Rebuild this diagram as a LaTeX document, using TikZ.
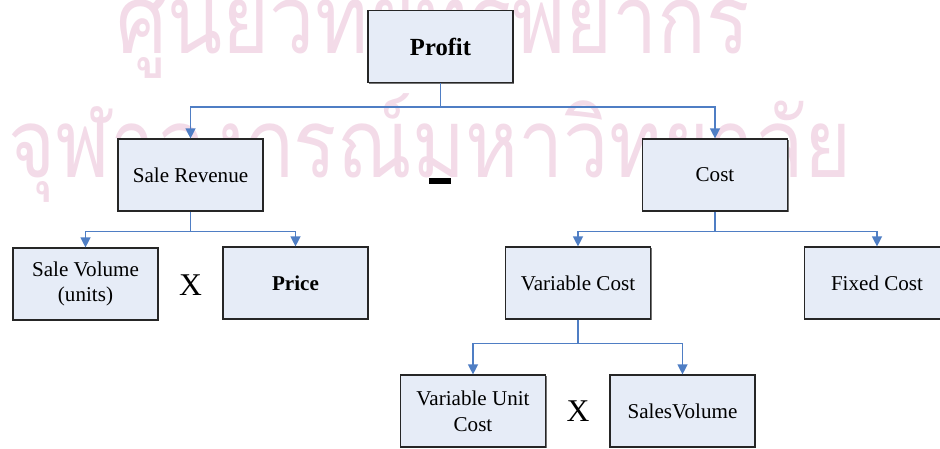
\documentclass[tikz,border=0pt]{standalone}
\usepackage{fontspec}
\setmainfont{Liberation Serif}
\newfontfamily\thaifont[Script=Thai]{Loma}
\usetikzlibrary{arrows.meta,shadows,calc}
\definecolor{cBox}{RGB}{230,236,247}
\definecolor{cLine}{RGB}{79,126,196}
\definecolor{cStamp}{RGB}{243,219,232}

\tikzset{
  box/.style={draw=black!85,line width=1pt,fill=cBox,
    minimum width=4.35cm,minimum height=2.16cm,inner sep=2pt,
    align=center,font=\fontsize{18}{22}\selectfont,
    drop shadow={shadow xshift=0.035cm,shadow yshift=-0.035cm,fill=black!55,opacity=1}},
  link/.style={cLine,line width=1.1pt,-{Triangle[length=0.3cm,width=0.3cm]}},
  opsign/.style={font=\fontsize{27}{27}\selectfont},
  stamp/.style={cStamp,font=\thaifont\fontsize{71}{71}\selectfont,anchor=base,inner sep=0pt,
    xscale=0.97,yscale=1.15}
}

\begin{document}
\begin{tikzpicture}[x=0.03cm,y=-0.03cm]
\useasboundingbox (0,0) rectangle (940,449);
\clip (0,0) rectangle (940,449);
% background stamp
\node[stamp] (stamp1) at (433,53) {ศูนย์วิทยทรัพยากร};
\node[stamp] (stamp2) at (430,177) {จุฬาลงกรณ์มหาวิทยาลัย};
% boxes
\node[box,font=\fontsize{21}{25}\selectfont\bfseries] (profit) at (440.5,46.5) {Profit};
\node[box] (rev) at (190.5,175) {Sale Revenue};
\node[box] (cost) at (715,175) {Cost};
\node[box] (vol) at (85.5,284) {Sale Volume\\(units)};
\node[box,font=\fontsize{18}{22}\selectfont\bfseries] (price) at (295.5,283) {Price};
\node[box] (varcost) at (578,283) {Variable Cost};
\node[box] (fixcost) at (877,283) {Fixed Cost};
\node[box] (unitcost) at (473,411) {Variable Unit\\Cost};
\node[box] (salesvol) at (682.5,411) {SalesVolume};
% operators
\node[fill=black,minimum width=0.66cm,minimum height=0.18cm,inner sep=0pt] (minus) at (440,181) {};
\node[opsign] (times1) at (190.5,285) {X};
\node[opsign] (times2) at (578,411) {X};
% connectors
\coordinate (j1) at ($(profit.south)+(0,24)$);
\draw[link] (profit.south) -- (j1) -| (rev.north);
\draw[link] (j1) -| (cost.north);
\coordinate (j2) at ($(rev.south)+(0,20)$);
\draw[link] (rev.south) -- (j2) -| (vol.north);
\draw[link] (j2) -| (price.north);
\coordinate (j3) at ($(cost.south)+(0,20)$);
\draw[link] (cost.south) -- (j3) -| (varcost.north);
\draw[link] (j3) -| (fixcost.north);
\coordinate (j4) at ($(varcost.south)+(0,24)$);
\draw[link] (varcost.south) -- (j4) -| (unitcost.north);
\draw[link] (j4) -| (salesvol.north);
\end{tikzpicture}
\end{document}
